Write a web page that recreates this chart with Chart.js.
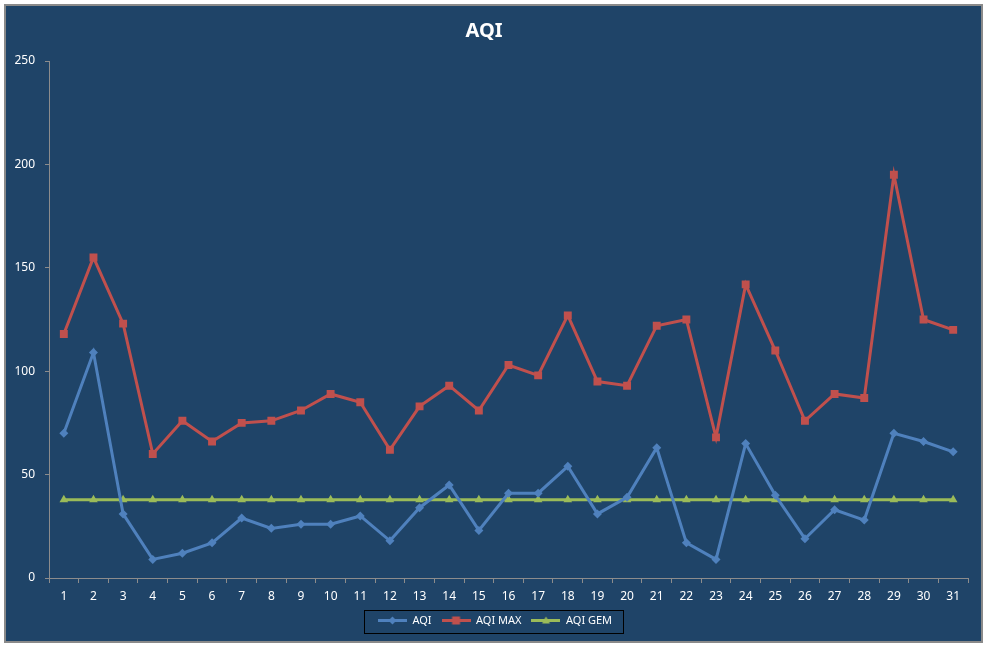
<!DOCTYPE html>
<html>
<head>
<meta charset="utf-8">
<title>AQI</title>
<script src="https://cdn.jsdelivr.net/npm/chart.js@4.4.1/dist/chart.umd.min.js"></script>
<style>
    html, body { margin: 0; padding: 0; background: #ffffff; }
    #wrap { width: 987px; height: 648px; }
</style>
</head>
<body>
<div id="wrap"><canvas id="aqiChart" width="987" height="648"></canvas></div>
<script>
// Gegevens
const days = ['1', '2', '3', '4', '5', '6', '7', '8', '9', '10', '11', '12', '13', '14', '15', '16',
    '17', '18', '19', '20', '21', '22', '23', '24', '25', '26', '27', '28', '29', '30', '31'];

const aqi = [70, 109, 31, 9, 12, 17, 29, 24, 26, 26, 30, 18, 34, 45, 23, 41,
    41, 54, 31, 39, 63, 17, 9, 65, 40, 19, 33, 28, 70, 66, 61];

const aqiMax = [118, 155, 123, 60, 76, 66, 75, 76, 81, 89, 85, 62, 83, 93, 81, 103,
    98, 127, 95, 93, 122, 125, 68, 142, 110, 76, 89, 87, 195, 125, 120];

const aqiGem = [37.8, 37.8, 37.8, 37.8, 37.8, 37.8, 37.8, 37.8, 37.8, 37.8, 37.8, 37.8, 37.8, 37.8, 37.8, 37.8,
    37.8, 37.8, 37.8, 37.8, 37.8, 37.8, 37.8, 37.8, 37.8, 37.8, 37.8, 37.8, 37.8, 37.8, 37.8];

const yMin = 0;
const yMax = 250;
const yStep = 50;

const colors = {
    bg: '#1f4468',
    frame: '#8a8a8a',
    axis: '#8c8c8c',
    text: '#ffffff',
    blue: '#4f81bd',
    red: '#c0504d',
    green: '#9bbb59'
};

const fontFamily = "'Noto Sans', 'Liberation Sans', sans-serif";

// Legendasymbool: lijn met markering
function legendSymbol(color, style) {
    const c = document.createElement('canvas');
    c.width = 29;
    c.height = 11;
    const ctx = c.getContext('2d');
    ctx.strokeStyle = color;
    ctx.lineWidth = 3;
    ctx.beginPath();
    ctx.moveTo(0, 5.5);
    ctx.lineTo(29, 5.5);
    ctx.stroke();
    ctx.fillStyle = color;
    ctx.beginPath();
    if (style === 'rect') {
        ctx.rect(10.5, 1.5, 8, 8);
    } else if (style === 'rectRot') {
        ctx.moveTo(14.5, 1.5);
        ctx.lineTo(18.5, 5.5);
        ctx.lineTo(14.5, 9.5);
        ctx.lineTo(10.5, 5.5);
        ctx.closePath();
    } else {
        ctx.moveTo(14.5, 1.5);
        ctx.lineTo(18.5, 8.5);
        ctx.lineTo(10.5, 8.5);
        ctx.closePath();
    }
    ctx.fill();
    return c;
}

const legendSymbols = [
    legendSymbol(colors.blue, 'rectRot'),
    legendSymbol(colors.red, 'rect'),
    legendSymbol(colors.green, 'triangle')
];

// Achtergrond en kader
const backgroundPlugin = {
    id: 'backgroundPlugin',
    beforeDraw(chart) {
        const ctx = chart.ctx;
        ctx.save();
        ctx.fillStyle = colors.bg;
        ctx.fillRect(5, 5, 977, 637);
        ctx.strokeStyle = colors.frame;
        ctx.lineWidth = 2;
        ctx.strokeRect(5, 5, 977, 637);
        ctx.restore();
    }
};

// Legenda iets naar rechts (midden van het kader) en kader eromheen
const legendBoxPlugin = {
    id: 'legendBoxPlugin',
    afterLayout(chart) {
        if (chart.legend) {
            chart.legend.left += 11;
            chart.legend.right += 11;
        }
    },
    afterDraw(chart) {
        const boxes = chart.legend && chart.legend.legendHitBoxes;
        if (!boxes || !boxes.length) return;
        const first = boxes[0];
        const last = boxes[boxes.length - 1];
        const left = Math.round(first.left) - 14;
        const right = Math.round(last.left + last.width) + 11;
        const top = Math.round(first.top) - 5;
        const bottom = Math.round(first.top + first.height) + 7;
        const ctx = chart.ctx;
        ctx.save();
        ctx.strokeStyle = '#000000';
        ctx.lineWidth = 1;
        ctx.strokeRect(left + 0.5, top + 0.5, right - left, bottom - top);
        ctx.restore();
    }
};

const ctx = document.getElementById('aqiChart').getContext('2d');
new Chart(ctx, {
    type: 'line',
    data: {
        labels: days,
        datasets: [{
            label: 'AQI',
            data: aqi,
            borderColor: colors.blue,
            backgroundColor: colors.blue,
            borderWidth: 3,
            pointStyle: 'rectRot',
            pointRadius: 4.5,
            pointBorderWidth: 0,
            tension: 0
        }, {
            label: 'AQI MAX',
            data: aqiMax,
            borderColor: colors.red,
            backgroundColor: colors.red,
            borderWidth: 3,
            pointStyle: 'rect',
            pointRadius: 5.6,
            pointBorderWidth: 0,
            tension: 0
        }, {
            label: 'AQI GEM',
            data: aqiGem,
            borderColor: colors.green,
            backgroundColor: colors.green,
            borderWidth: 3,
            pointStyle: 'triangle',
            pointRadius: 5,
            pointBorderWidth: 0,
            tension: 0
        }]
    },
    options: {
        responsive: false,
        animation: false,
        layout: {
            padding: { left: 0, right: 19, top: 0, bottom: 12 }
        },
        plugins: {
            title: {
                display: true,
                text: 'AQI',
                color: colors.text,
                font: { family: fontFamily, size: 20, weight: 'bold' },
                padding: { top: 19, bottom: 18 }
            },
            legend: {
                display: true,
                position: 'bottom',
                labels: {
                    color: colors.text,
                    font: { family: fontFamily, size: 11 },
                    usePointStyle: true,
                    pointStyleWidth: 29,
                    padding: 10,
                    generateLabels(chart) {
                        const items = Chart.defaults.plugins.legend.labels.generateLabels(chart);
                        items.forEach((item, i) => { item.pointStyle = legendSymbols[i]; });
                        return items;
                    }
                }
            },
            tooltip: { enabled: false }
        },
        scales: {
            x: {
                offset: true,
                grid: {
                    offset: true,
                    drawOnChartArea: false,
                    drawTicks: true,
                    tickLength: 5,
                    color: colors.axis
                },
                border: { display: true, color: colors.axis, width: 1 },
                ticks: {
                    color: colors.text,
                    font: { family: fontFamily, size: 12 },
                    padding: 6,
                    maxRotation: 0,
                    autoSkip: false
                },
                afterFit(scale) { scale.height = 27; }
            },
            y: {
                min: yMin,
                max: yMax,
                grid: {
                    drawOnChartArea: false,
                    drawTicks: true,
                    tickLength: 4,
                    color: colors.axis
                },
                border: { display: true, color: colors.axis, width: 1 },
                ticks: {
                    stepSize: yStep,
                    color: colors.text,
                    font: { family: fontFamily, size: 12 },
                    padding: 10
                },
                afterFit(scale) { scale.width = 49; }
            }
        }
    },
    plugins: [backgroundPlugin, legendBoxPlugin]
});
</script>
</body>
</html>
